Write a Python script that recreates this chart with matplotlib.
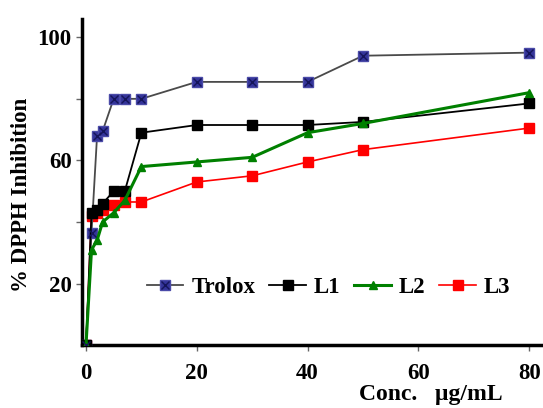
import matplotlib.pyplot as plt
from matplotlib.legend_handler import HandlerTuple

# concentrations (ug/mL) and % inhibition
conc = [0, 1, 2, 3, 5, 7, 10, 20, 30, 40, 50, 80]
trolox = [0, 36.5, 68, 69.5, 80, 80, 80, 85.5, 85.5, 85.5, 94, 95]
l1 = [0, 43, 44, 46, 50, 50, 69, 71.5, 71.5, 71.5, 72.5, 78.5]
l2 = [0, 31, 34, 40, 43, 47, 58, 59.5, 61, 69, 72, 82]
l3 = [0, 42, 43, 44, 45.5, 46.5, 46.5, 53, 55, 59.5, 63.5, 70.5]

xticks = [0, 20, 40, 60, 80]
yticks = [20, 60, 100]

plt.rcParams['font.family'] = ['Liberation Serif', 'DejaVu Serif']
plt.rcParams['font.weight'] = 'bold'

fig = plt.figure(figsize=(5.43, 4.08), dpi=100)
ax = fig.add_axes([0.151, 0.154, 0.849, 0.80])

t_line, = ax.plot(conc, trolox, '-s', color='#4a4a4a', lw=1.3, ms=7.5,
                  mfc='#333399', mec='#4a4aa8', zorder=3)
t_x, = ax.plot(conc, trolox, 'x', color='#15155a', ms=6, mew=1.0, zorder=4)
b_line, = ax.plot(conc, l1, '-s', color='black', lw=1.3, ms=7.5, zorder=3)
g_line, = ax.plot(conc, l2, '-^', color='#008000', lw=2.2, ms=6, zorder=3)
r_line, = ax.plot(conc, l3, '-s', color='#ff0000', lw=1.2, ms=7.5, zorder=2)

ax.set_xlim(-0.72, 82.5)
ax.set_ylim(0, 106)
ax.set_xticks(xticks)
ax.set_yticks(yticks)
ax.set_yticks([40, 80], minor=True)
ax.tick_params(axis='both', labelsize=16.5, length=4, width=1, color='#666666',
               direction='out')
ax.tick_params(axis='x', pad=9)
ax.tick_params(axis='y', which='minor', length=4, width=1, color='#666666')
for lab in ax.get_xticklabels() + ax.get_yticklabels():
    lab.set_fontweight('bold')

for s in ['top', 'right']:
    ax.spines[s].set_visible(False)
for s in ['left', 'bottom']:
    ax.spines[s].set_linewidth(2.5)

ax.set_ylabel('% DPPH Inhibition', fontsize=16.5, fontweight='bold')
ax.yaxis.set_label_coords(-0.108, 0.46)
fig.text(0.793, 0.008, 'Conc.   µg/mL', fontsize=17, fontweight='bold',
         ha='center', va='bottom')

ax.legend([(t_line, t_x), b_line, g_line, r_line], ['Trolox', 'L1', 'L2', 'L3'],
          handler_map={tuple: HandlerTuple(ndivide=1, pad=0)},
          loc='center', bbox_to_anchor=(0.535, 0.178), ncol=4, frameon=False,
          numpoints=1, handlelength=1.6, handletextpad=0.35, columnspacing=0.6,
          prop={'size': 16.5, 'weight': 'bold'})

fig.savefig('out.png', dpi=100)
